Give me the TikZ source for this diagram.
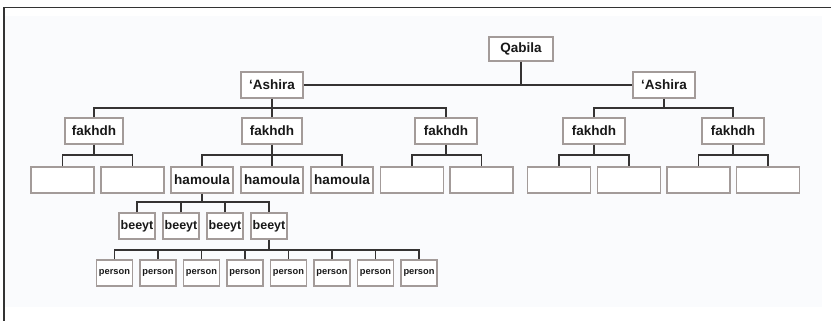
\documentclass[tikz,border=0pt]{standalone}
\usepackage{fontspec}
\setmainfont{Liberation Sans}
\usepackage{xcolor}
\usepackage{tikz}
\usetikzlibrary{calc}
\definecolor{boxgray}{HTML}{A39B99}
\definecolor{linegray}{HTML}{353333}
\definecolor{paper}{HTML}{FAFBFD}
\tikzstyle{unit} = [rectangle, draw=boxgray, line width=1.4pt, fill=white, text=black!90, font=\bfseries\fontsize{13.5}{15}\selectfont, inner sep=0pt, minimum width=62pt, minimum height=26pt]
\tikzstyle{blank} = [unit, minimum width=63pt]
\tikzstyle{house} = [unit, font=\bfseries\fontsize{12.5}{14}\selectfont, minimum width=36pt]
\tikzstyle{member} = [unit, font=\bfseries\fontsize{9.3}{10}\selectfont, minimum width=36pt]
\tikzstyle{line} = [draw=linegray, line width=1.9pt]
\begin{document}
\begin{tikzpicture}[x=1pt, y=-1pt]

\useasboundingbox (0,0) rectangle (831,321);
\fill [paper] (5,16) rectangle (822,307);
\draw [black!80, line width=1.5pt] (4,321) -- (4,7.5) -- (831,7.5);

\coordinate (busAshira) at (0,108);
\coordinate (busFakhdh) at (0,155);
\coordinate (busHamoula) at (0,202);
\coordinate (busBeeyt) at (0,250);

\node [unit, minimum width=64pt, minimum height=24pt] (qabila) at (521,49) {Qabila};
\node [unit] (ashiraA) at (272,85) {`Ashira};
\node [unit] (ashiraB) at (664,85) {`Ashira};

\node [unit, minimum width=58pt] (fakhdhA) at (94,131) {fakhdh};
\node [unit, minimum width=60pt] (fakhdhB) at (272,131) {fakhdh};
\node [unit, minimum width=62pt] (fakhdhC) at (446,131) {fakhdh};
\node [unit, minimum width=62pt] (fakhdhD) at (594,131) {fakhdh};
\node [unit, minimum width=62pt] (fakhdhE) at (733,131) {fakhdh};

\node [blank] (blankA1) at (62.5,180) {};
\node [blank] (blankA2) at (132.5,180) {};
\node [unit] (hamoulaA) at (202,180) {hamoula};
\node [unit] (hamoulaB) at (272,180) {hamoula};
\node [unit] (hamoulaC) at (342,180) {hamoula};
\node [blank] (blankC1) at (412,180) {};
\node [blank] (blankC2) at (481.5,180) {};
\node [blank] (blankD1) at (559,180) {};
\node [blank] (blankD2) at (629,180) {};
\node [blank] (blankE1) at (698.5,180) {};
\node [blank] (blankE2) at (768,180) {};

\foreach \i in {1,...,4}
  \node [house] (beeyt\i) at ({93+44*\i},226) {beeyt};
\foreach \i in {0,...,7}
  \node [member] (person\i) at ({114.5+43.5*\i},273) {person};

% qabila and 'ashira
\path [line] (ashiraA.east) -- (ashiraB.west);
\path [line] (qabila.south) -- (qabila.south |- ashiraA.east);

% fakhdh level
\path [line] (ashiraA.south) -- (ashiraA.south |- busAshira);
\path [line] (fakhdhA.north) |- (fakhdhC.north |- busAshira) -- (fakhdhC.north);
\path [line] (fakhdhB.north) -- (fakhdhB.north |- busAshira);
\path [line] (ashiraB.south) -- (ashiraB.south |- busAshira);
\path [line] (fakhdhD.north) |- (fakhdhE.north |- busAshira) -- (fakhdhE.north);

% hamoula level
\path [line] (fakhdhA.south) -- (fakhdhA.south |- busFakhdh);
\path [line] (blankA1.north) |- (blankA2.north |- busFakhdh) -- (blankA2.north);
\path [line] (fakhdhB.south) -- (hamoulaB.north);
\path [line] (hamoulaA.north) |- (hamoulaC.north |- busFakhdh) -- (hamoulaC.north);
\path [line] (fakhdhC.south) -- (fakhdhC.south |- busFakhdh);
\path [line] (blankC1.north) |- (blankC2.north |- busFakhdh) -- (blankC2.north);
\path [line] (fakhdhD.south) -- (fakhdhD.south |- busFakhdh);
\path [line] (blankD1.north) |- (blankD2.north |- busFakhdh) -- (blankD2.north);
\path [line] (fakhdhE.south) -- (fakhdhE.south |- busFakhdh);
\path [line] (blankE1.north) |- (blankE2.north |- busFakhdh) -- (blankE2.north);

% beeyt level
\path [line] (hamoulaA.south) -- (hamoulaA.south |- busHamoula);
\path [line] (beeyt1.north) |- (beeyt4.north |- busHamoula) -- (beeyt4.north);
\path [line] (beeyt2.north) -- (beeyt2.north |- busHamoula);
\path [line] (beeyt3.north) -- (beeyt3.north |- busHamoula);

% person level
\path [line] (beeyt4.south) -- (beeyt4.south |- busBeeyt);
\path [line] (person0.north) |- (person7.north |- busBeeyt) -- (person7.north);
\foreach \i in {1,...,6}
  \path [line] (person\i.north) -- (person\i.north |- busBeeyt);

\end{tikzpicture}
\end{document}
